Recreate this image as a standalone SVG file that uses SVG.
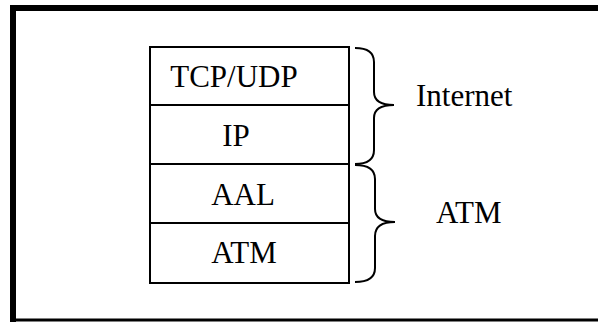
<svg xmlns="http://www.w3.org/2000/svg" width="598" height="322" viewBox="0 0 598 322">
<style>
.t{font-family:"Liberation Serif","Times New Roman",serif;font-size:31px;fill:#000;text-anchor:middle}
.lbl{font-family:"Liberation Serif","Times New Roman",serif;font-size:31px;fill:#000}
.cell{fill:#fff;stroke:#000;stroke-width:2}
.brace{fill:none;stroke:#000;stroke-width:2}
</style>
<rect width="598" height="322" fill="#fff"/>
<g id="frame">
<line x1="13" y1="5" x2="13" y2="322" stroke="#000" stroke-width="6"/>
<line x1="10" y1="8" x2="598" y2="8" stroke="#000" stroke-width="6"/>
<line x1="10" y1="320" x2="598" y2="320" stroke="#000" stroke-width="3"/>
</g>
<g id="tcpudp"><rect class="cell" x="150" y="47" width="199" height="58"/><text class="t" x="234" y="87">TCP/UDP</text></g>
<g id="ip"><rect class="cell" x="150" y="105" width="199" height="59"/><text class="t" x="236" y="146">IP</text></g>
<g id="aal"><rect class="cell" x="150" y="164" width="199" height="59"/><text class="t" x="243" y="205">AAL</text></g>
<g id="atm"><rect class="cell" x="150" y="223" width="199" height="60"/><text class="t" x="244" y="263">ATM</text></g>
<g id="connectors">
<path class="brace" d="M355,48 Q374,48 374,62 L374,92 Q374,105 394,105 Q374,105 374,118 L374,150 Q374,164 355,164"/>
<path class="brace" d="M355,165 Q375,165 375,179 L375,209 Q375,222 395,222 Q375,222 375,236 L375,268 Q375,282 355,282"/>
</g>
<g id="internet-label"><text class="lbl" x="416" y="106">Internet</text></g>
<g id="atm-label"><text class="lbl" x="436" y="223">ATM</text></g>
</svg>
